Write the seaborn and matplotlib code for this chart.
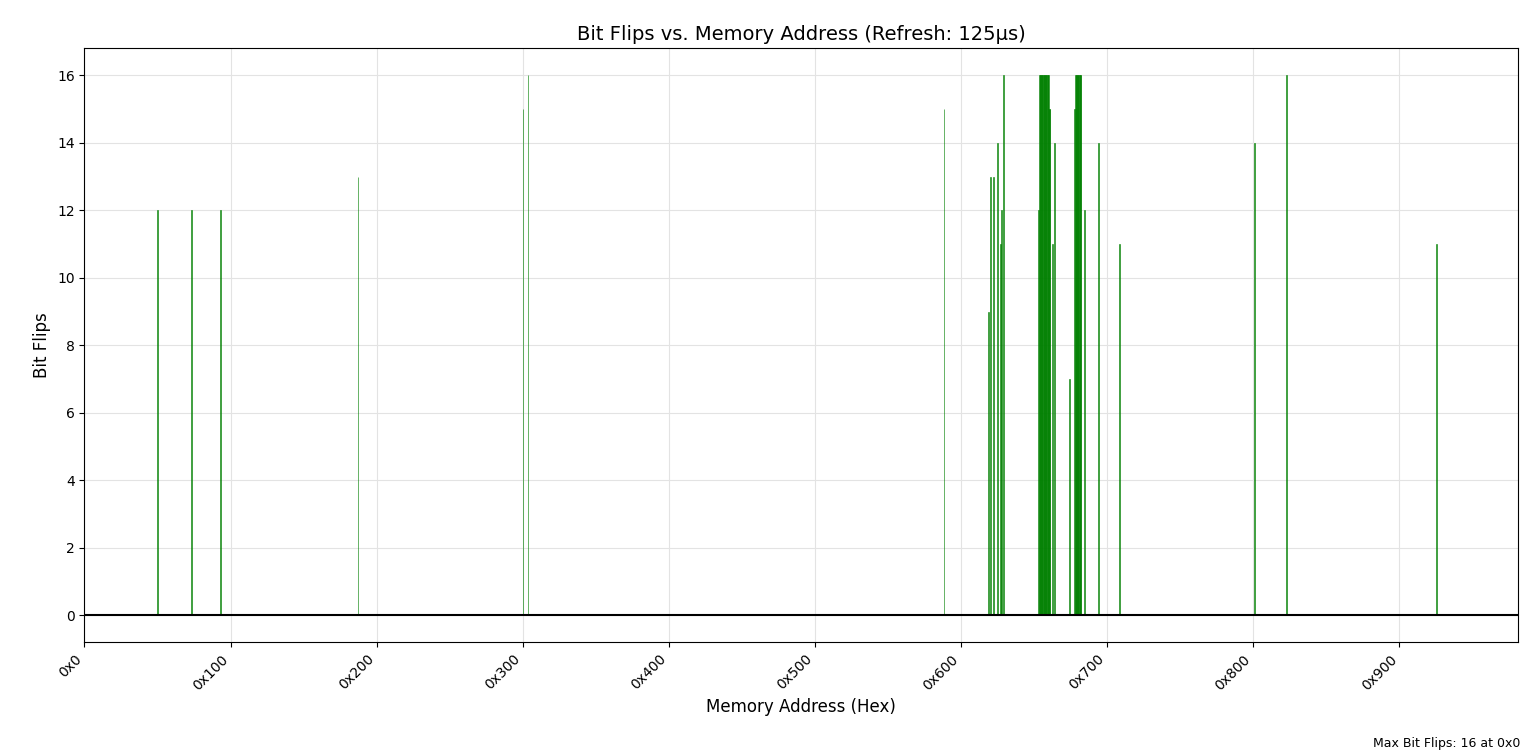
import matplotlib
matplotlib.use("Agg")
import matplotlib.pyplot as plt
import matplotlib.ticker as mticker
import seaborn as sns

addresses = [128, 188, 238, 479, 768, 777, 1506,
             1584, 1587, 1593, 1600, 1605, 1607, 1610,
             1672, 1673, 1674, 1675, 1676, 1677, 1678, 1679, 1680, 1681, 1682,
             1683, 1684, 1685, 1686, 1687, 1688, 1689, 1690, 1691, 1692,
             1696, 1700, 1726,
             1735, 1736, 1737, 1738, 1739, 1740, 1741, 1742, 1743, 1744, 1745, 1746,
             1752, 1777, 1814, 2050, 2106, 2369]
flips = [12, 12, 12, 13, 15, 16, 15,
         9, 13, 13, 14, 11, 12, 16,
         12, 16, 16, 16, 16, 16, 16, 16, 16, 16, 16,
         16, 16, 16, 16, 16, 16, 16, 15, 15, 15,
         11, 14, 7,
         15, 16, 16, 16, 16, 16, 16, 16, 16, 16, 16, 16,
         12, 14, 11, 14, 16, 11]

sns.set_style("white")
plt.rcParams.update({"text.color": "black", "axes.labelcolor": "black",
                     "xtick.color": "black", "ytick.color": "black"})
fig, ax = plt.subplots(figsize=(15.36, 7.54), dpi=100)
ax.bar(addresses, flips, width=1.0, color="green", alpha=0.7,
       edgecolor="green", linewidth=0.6)
ax.axhline(0, color="black", linewidth=1.5)
ax.set_xlim(0, 2511)
ax.set_ylim(-0.8, 16.8)
ax.xaxis.set_major_locator(mticker.MultipleLocator(256))
ax.xaxis.set_major_formatter(mticker.FuncFormatter(lambda v, p: hex(int(v))))
plt.setp(ax.get_xticklabels(), rotation=45, ha="right")
ax.grid(True, color="#e3e3e3", linewidth=0.8)
for s in ax.spines.values():
    s.set_color("black")
ax.tick_params(bottom=True, left=True)
ax.set_title("Bit Flips vs. Memory Address (Refresh: 125µs)", fontsize=14)
ax.set_xlabel("Memory Address (Hex)", fontsize=12)
ax.set_ylabel("Bit Flips", fontsize=12)
fig.subplots_adjust(left=0.055, right=0.988, top=0.936, bottom=0.148)
fig.text(0.99, 0.005, "Max Bit Flips: 16 at 0x0", ha="right", va="bottom", fontsize=9)
fig.savefig("out.png")
